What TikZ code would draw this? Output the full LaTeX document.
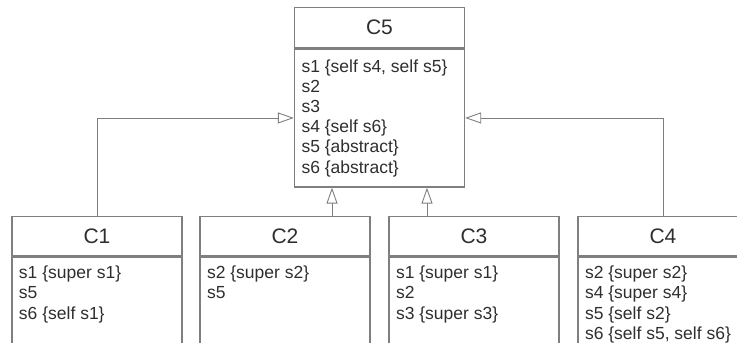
\documentclass[tikz,border=0pt]{standalone}
\usepackage{fontspec}
\setmainfont{Liberation Sans}
\usepackage{tikz}
\usetikzlibrary{positioning,arrows.meta}
\usepackage{xcolor}

\definecolor{boxline}{HTML}{7F7F7F}
\definecolor{txt}{HTML}{2E2E2E}

% member list of a class, top aligned
\newcommand{\members}[2]{\parbox[t][#1][t]{156pt}{\fontsize{17.5}{20.2}\selectfont #2}}

\begin{document}
\begin{tikzpicture}[x=1pt,y=-1pt,
    head/.style={draw=boxline, line width=1.3pt, minimum width=170pt, minimum height=39pt,
        anchor=north, text=txt, font=\fontsize{21}{24}\selectfont, inner sep=0pt},
    body/.style={draw=boxline, line width=1.3pt, minimum width=170pt, text=txt,
        inner xsep=6.5pt, inner ysep=9pt, anchor=north},
    inherit/.style={draw=boxline, line width=0.9pt,
        -{Triangle[open,length=16pt,width=11pt]}}]
    \useasboundingbox (0,0) rectangle (737,343);
    \clip (0,0) rectangle (737,343);
    % top class
    \node[head, minimum height=40pt] (c5head) at (379.5,7) {C5};
    \node[body, below=0pt of c5head, inner ysep=10.5pt] (c5body) {\members{117pt}{%
        s1 \{self s4, self s5\}\\ s2\\ s3\\ s4 \{self s6\}\\ s5 \{abstract\}\\ s6 \{abstract\}}};
    % subclasses
    \node[head] (c1head) at (97,216) {C1};
    \node[body, below=0pt of c1head] (c1body) {\members{110pt}{%
        s1 \{super s1\}\\ s5\\ s6 \{self s1\}}};
    \node[head] (c2head) at (285,216) {C2};
    \node[body, below=0pt of c2head] (c2body) {\members{110pt}{%
        s2 \{super s2\}\\ s5}};
    \node[head] (c3head) at (474,216) {C3};
    \node[body, below=0pt of c3head] (c3body) {\members{110pt}{%
        s1 \{super s1\}\\ s2\\ s3 \{super s3\}}};
    \node[head] (c4head) at (663,216) {C4};
    \node[body, below=0pt of c4head] (c4body) {\members{110pt}{%
        s2 \{super s2\}\\ s4 \{super s4\}\\ s5 \{self s2\}\\ s6 \{self s5, self s6\}}};
    % inheritance arrows
    \draw[inherit] (c1head.north) |- (c5body.west);
    \draw[inherit] (c4head.north) |- (c5body.east);
    \draw[inherit] ([xshift=47pt]c2head.north) -- ([xshift=47pt]c2head.north |- c5body.south);
    \draw[inherit] ([xshift=-47pt]c3head.north) -- ([xshift=-47pt]c3head.north |- c5body.south);
\end{tikzpicture}
\end{document}
